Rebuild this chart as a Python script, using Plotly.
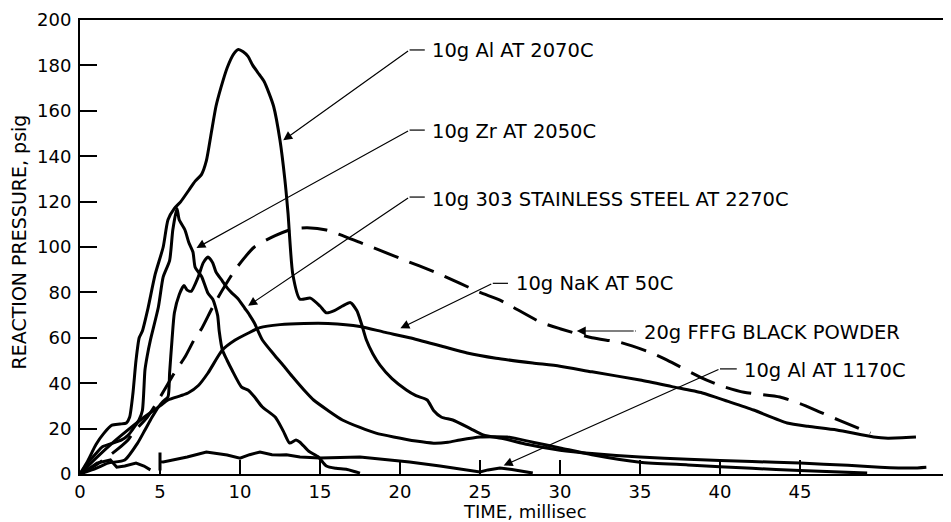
import plotly.graph_objects as go

# ---- data (time in millisec, pressure in psig) ----
al2070_t = [0, 0.5, 1.0, 1.5, 2.0, 2.5, 2.9, 3.1, 3.3, 3.5, 3.7, 3.9, 4.25, 4.7, 5.2, 5.5, 5.9, 6.3, 6.8,
            7.2, 7.6, 7.9, 8.2, 8.5, 8.8, 9.2, 9.6, 9.9, 10.2, 10.5, 10.8, 11.2, 11.5, 11.8, 12.1, 12.5,
            12.8, 13.0, 13.3, 13.75, 14.4, 15.0, 15.4, 15.9, 16.4, 16.9, 17.3, 17.6, 17.9, 18.3, 18.75,
            19.5, 20.4, 21.0, 21.7, 22.1, 22.6, 23.3, 24.4, 25.2, 26.5, 28.0, 30.0, 32.0, 35.0, 38.0,
            42.0, 45.0, 48.0, 50.0, 52.0, 52.9]
al2070_p = [0, 6, 13, 18, 21.5, 22, 22.5, 25, 35, 50, 60, 63, 73, 88, 100, 112, 117, 120, 125,
            129, 132, 138, 150, 162, 170, 179, 185, 187, 186, 184, 180, 176, 173, 168, 162, 147,
            130, 115, 88, 77, 77.5, 74, 71, 72, 74, 75.5, 72, 66, 59, 53, 48,
            42, 37, 34.5, 32.6, 28, 25, 23.8, 20, 17.2, 15.5, 13, 10.5, 9, 7.5, 6.5,
            5.5, 4.8, 3.8, 3.0, 2.6, 3.0]

zr_t = [0, 0.5, 1.0, 1.4, 2.0, 2.6, 3.0, 3.4, 3.7, 3.9, 4.06, 4.2, 4.4, 4.9, 5.2, 5.6, 5.8, 6.06,
        6.2, 6.56, 6.8, 7.06, 7.2, 7.6, 8.0, 8.3, 8.6, 8.7, 8.9, 9.2, 9.5, 10.1, 10.5, 10.9, 11.4,
        12.2, 12.7, 13.1, 13.5, 13.75, 14.3, 14.9, 15.4, 16.0, 16.7, 17.5]
zr_p = [0, 5, 9, 12, 13.5, 15, 17, 20.7, 24, 28, 45.8, 52, 59, 73.6, 86.8, 94, 107.5, 117,
        112, 107.5, 102, 97.8, 91, 87, 79.6, 77, 70, 63, 54.6, 50, 45.8, 38.3, 37, 34, 29.5,
        25.1, 19, 13.6, 15, 14, 10, 7.5, 3.5, 2.5, 2, 0.4]

ss_t = [0, 1.0, 1.75, 2.8, 3.6, 4.06, 4.5, 4.9, 5.2, 5.5, 5.6, 5.75, 5.9, 6.2, 6.5, 6.7, 6.95,
        7.4, 7.7, 8.0, 8.3, 8.5, 8.9, 9.2, 9.5, 9.9, 10.3, 10.6, 10.9, 11.4, 12.2, 12.8, 13.3,
        14.0, 14.6, 15.5, 16.4, 17.5, 18.5, 19.6, 21.0, 22.1, 23.0, 23.75, 25.0, 26.7, 28.3,
        30.0, 32.0, 35.0, 38.0, 42.0, 45.0, 49.2]
ss_p = [0, 2.5, 4.8, 6.2, 13.6, 19.4, 25, 29.5, 32, 34, 44.5, 59, 71, 79, 83, 81, 80.5,
        87, 93, 95.6, 93, 89, 85, 82, 79.7, 77, 73, 70, 66.5, 59, 52, 47, 42.7,
        37, 32.6, 28, 23.8, 20.5, 18, 16.3, 14.5, 13.6, 14, 15, 16.3, 16.3, 14,
        11.5, 8.5, 5.2, 4.0, 2.5, 1.5, 0.4]

nak_t = [0, 1, 2, 3, 4, 5, 5.5, 6.3, 6.75, 7.4, 8.0, 8.9, 9.7, 10.5, 11.25, 12.5, 14.0, 15.5,
         17.5, 19.0, 20.6, 22.5, 24.2, 26.0, 28.3, 30.0, 32.0, 35.0, 37.0, 38.9, 40.5, 42.1,
         44.2, 45.5, 47.3, 49.6, 50.5, 52.25]
nak_p = [0, 7, 13.5, 19.4, 25, 30, 32.6, 34.5, 35.7, 39, 44.5, 54.6, 59, 62, 64.5, 65.8, 66.3, 66.3,
         65, 62.5, 60, 56.5, 53.3, 51, 48.9, 47.5, 45, 41.4, 38.5, 35.7, 32, 28.2,
         22.5, 21, 19.4, 16.3, 15.8, 16.3]

bp_t = [0, 1, 2, 3, 3.3, 4.2, 4.9, 5.9, 6.56, 7.2, 7.6, 8.4, 9.7, 10.9, 12.2, 13.3, 14.2, 15.4,
        17.5, 20.0, 22.5, 25.0, 26.25, 28.75, 30.0, 32.0, 33.75, 35.6, 36.7, 38.75, 40.0, 41.5,
        43.75, 45.0, 46.25, 47.5, 49.4]
bp_p = [0, 4, 9, 15, 18, 25, 32.6, 44.5, 51.5, 60, 64, 75, 90, 100, 105, 108, 108.5, 107.5,
        102, 95, 88, 80, 76.6, 67, 64, 60, 58, 53.7, 50.2, 42.7, 39, 36,
        33.9, 31, 27.3, 23.5, 18]

al1170_t = [0, 0.5, 1.06, 1.5, 1.9, 2.3, 2.8, 3.5, 4.0, 4.4, None, 5.0, 5.0, 5.0, 5.2, 6.0, 6.7,
            7.9, 8.5, 9.2, 10.0, 10.6, 11.25, 12.0, 12.5, 12.9, 13.75, 15.0, 17.5, 20.6, 22.5,
            24.6, 25.0, 25.5, 26.25, 27.0, 28.3]
al1170_p = [0, 2, 4.8, 5.5, 6.2, 3, 3.5, 4.8, 3.5, 1.8, None, 9.5, 1.5, 5.5, 5.3, 6.5, 7.5,
            9.7, 9, 8.4, 7, 8.5, 9.7, 8.5, 8.4, 8.5, 7.5, 7, 7.5, 5.3, 3.5,
            1.5, 0.9, 1.8, 2.6, 2.0, 0.4]

x_ticks = [0, 5, 10, 15, 20, 25, 30, 35, 40, 45]
y_ticks = [0, 20, 40, 60, 80, 100, 120, 140, 160, 180, 200]

labels = ["10g Al AT 2070C", "10g Zr AT 2050C", "10g 303 STAINLESS STEEL AT 2270C",
          "10g NaK AT 50C", "20g FFFG BLACK POWDER", "10g Al AT 1170C"]
tip_t = [12.5, 7.06, 10.3, 19.8, 30.8, 26.25]
tip_p = [146, 98.7, 73.1, 63.4, 63, 3]
elbow_t = [20.6, 20.6, 20.6, 25.8, 34.7, 40.0]
elbow_p = [186.8, 151.5, 122, 84, 63, 46.3]
text_t = [21.9, 21.9, 21.9, 27.1, 35.1, 41.4]
text_p = [186.5, 150.7, 121, 84, 62.5, 45.8]

FONT = "DejaVu Sans"
LABEL_SIZE = 19.5

fig = go.Figure()
series = [
    (al2070_t, al2070_p, "solid", "spline"),
    (zr_t, zr_p, "solid", "spline"),
    (ss_t, ss_p, "solid", "spline"),
    (nak_t, nak_p, "solid", "spline"),
    (bp_t, bp_p, "26px,12px", "spline"),
    (al1170_t, al1170_p, "solid", "linear"),
]
for t, p, dash, shp in series:
    fig.add_trace(go.Scatter(
        x=t, y=p, mode="lines", showlegend=False, connectgaps=False,
        line=dict(color="black", width=3, dash=dash, shape=shp,
                  smoothing=0.6 if shp == "spline" else None),
        hoverinfo="skip"))

annotations = []
shapes = []
for i, lab in enumerate(labels):
    annotations.append(dict(
        x=tip_t[i], y=tip_p[i], ax=elbow_t[i], ay=elbow_p[i],
        xref="x", yref="y", axref="x", ayref="y", text="",
        showarrow=True, arrowhead=2, arrowsize=1.5, arrowwidth=1.2,
        arrowcolor="black", standoff=4))
    shapes.append(dict(type="line", xref="x", yref="y",
                       x0=elbow_t[i], y0=elbow_p[i], x1=text_t[i] - 0.35, y1=elbow_p[i],
                       line=dict(color="black", width=1.2)))
    annotations.append(dict(
        x=text_t[i], y=text_p[i], xref="x", yref="y", text=lab,
        showarrow=False, xanchor="left", yanchor="middle",
        font=dict(family=FONT, size=LABEL_SIZE, color="black")))

# axis titles
annotations.append(dict(text="TIME, millisec", xref="paper", yref="paper",
                        x=0.511, y=0, yanchor="top", xanchor="center", yshift=-25,
                        showarrow=False, font=dict(family=FONT, size=18, color="black")))
annotations.append(dict(text="REACTION PRESSURE, psig", xref="paper", yref="paper",
                        x=0, y=0.51, xanchor="center", yanchor="middle", xshift=-61,
                        textangle=-90, showarrow=False,
                        font=dict(family=FONT, size=19, color="black")))

# the page body adds an 8px offset; the figure is sized so the plot area lands
# at x 80..951, y 20..474 in the 951x522 window
fig.update_layout(
    width=943, height=514,
    margin=dict(l=72, r=0, t=12, b=48),
    paper_bgcolor="white", plot_bgcolor="white",
    font=dict(family=FONT, size=18, color="black"),
    annotations=annotations, shapes=shapes,
    xaxis=dict(range=[0, 54.44], tickvals=x_ticks, ticktext=[str(v) for v in x_ticks],
               ticks="inside", ticklen=14, tickwidth=2, tickcolor="black",
               showline=True, linewidth=2, linecolor="black", mirror=True,
               showgrid=False, zeroline=False, ticklabelstandoff=0),
    yaxis=dict(range=[0, 200], tickvals=y_ticks, ticktext=[str(v) for v in y_ticks],
               ticks="inside", ticklen=17, tickwidth=2, tickcolor="black",
               showline=True, linewidth=2, linecolor="black",
               showgrid=False, zeroline=False, ticklabelstandoff=3),
)

fig.write_html("out.html")
